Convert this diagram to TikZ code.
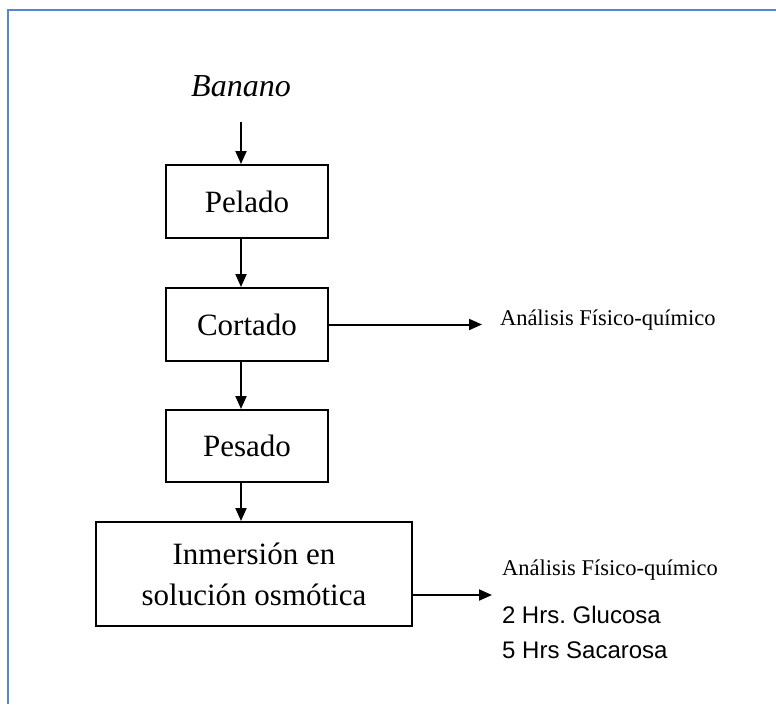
\documentclass[tikz,border=0pt]{standalone}
\usepackage{fontspec}
\setmainfont{Liberation Serif}
\newfontfamily\arialfont{Liberation Sans}
\usetikzlibrary{arrows.meta}
\definecolor{frameblue}{RGB}{84,135,205}
\begin{document}
\begin{tikzpicture}[x=1pt,y=-1pt,
 box/.style={draw,line width=2pt,inner sep=0pt,font=\fontsize{31}{41}\selectfont,align=center},
 arr/.style={line width=2pt,-{Triangle[length=13pt,width=11pt]}},
 small/.style={inner sep=0pt,font=\fontsize{22.5}{27}\selectfont},
 sans/.style={inner sep=0pt,font=\arialfont\fontsize{24}{28}\selectfont}]
\useasboundingbox (0,0) rectangle (776,704);
\draw[frameblue,line width=2pt] (8,704) -- (8,10) -- (776,10);

\node[inner sep=0pt,text height=24pt,text depth=26pt,font=\itshape\fontsize{32}{36}\selectfont,anchor=base] (banano) at (241,96) {Banano};
\node[box,minimum width=162pt,minimum height=73pt] (pelado) at (247,201.5) {Pelado};
\node[box,minimum width=162pt,minimum height=73pt] (cortado) at (247,324.5) {Cortado};
\node[box,minimum width=162pt,minimum height=72pt] (pesado) at (247,446) {Pesado};
\node[box,minimum width=316pt,minimum height=104pt] (inmersion) at (254,574) {Inmersión en\\solución osmótica};

\draw[arr] (banano.south) -- (banano.south |- pelado.north);
\draw[arr] (banano.south |- pelado.south) -- (banano.south |- cortado.north);
\draw[arr] (banano.south |- cortado.south) -- (banano.south |- pesado.north);
\draw[arr] (banano.south |- pesado.south) -- (banano.south |- inmersion.north);

\node[small,anchor=base west,outer xsep=18pt] (an1) at (482,325) {Análisis Físico-químico};
\draw[arr] (cortado.east) -- (cortado.east -| an1.west);

\node[small,anchor=base west] (an2) at (502,575) {Análisis Físico-químico};
\node[sans,anchor=base west,outer xsep=10pt] (glu) at (492,623) {2 Hrs.\ Glucosa};
\node[sans,anchor=base west] (sac) at (502,658) {5 Hrs Sacarosa};
\path (inmersion.east) ++(0,21) coordinate (o2);
\draw[arr] (o2) -- (o2 -| glu.west);
\end{tikzpicture}
\end{document}
